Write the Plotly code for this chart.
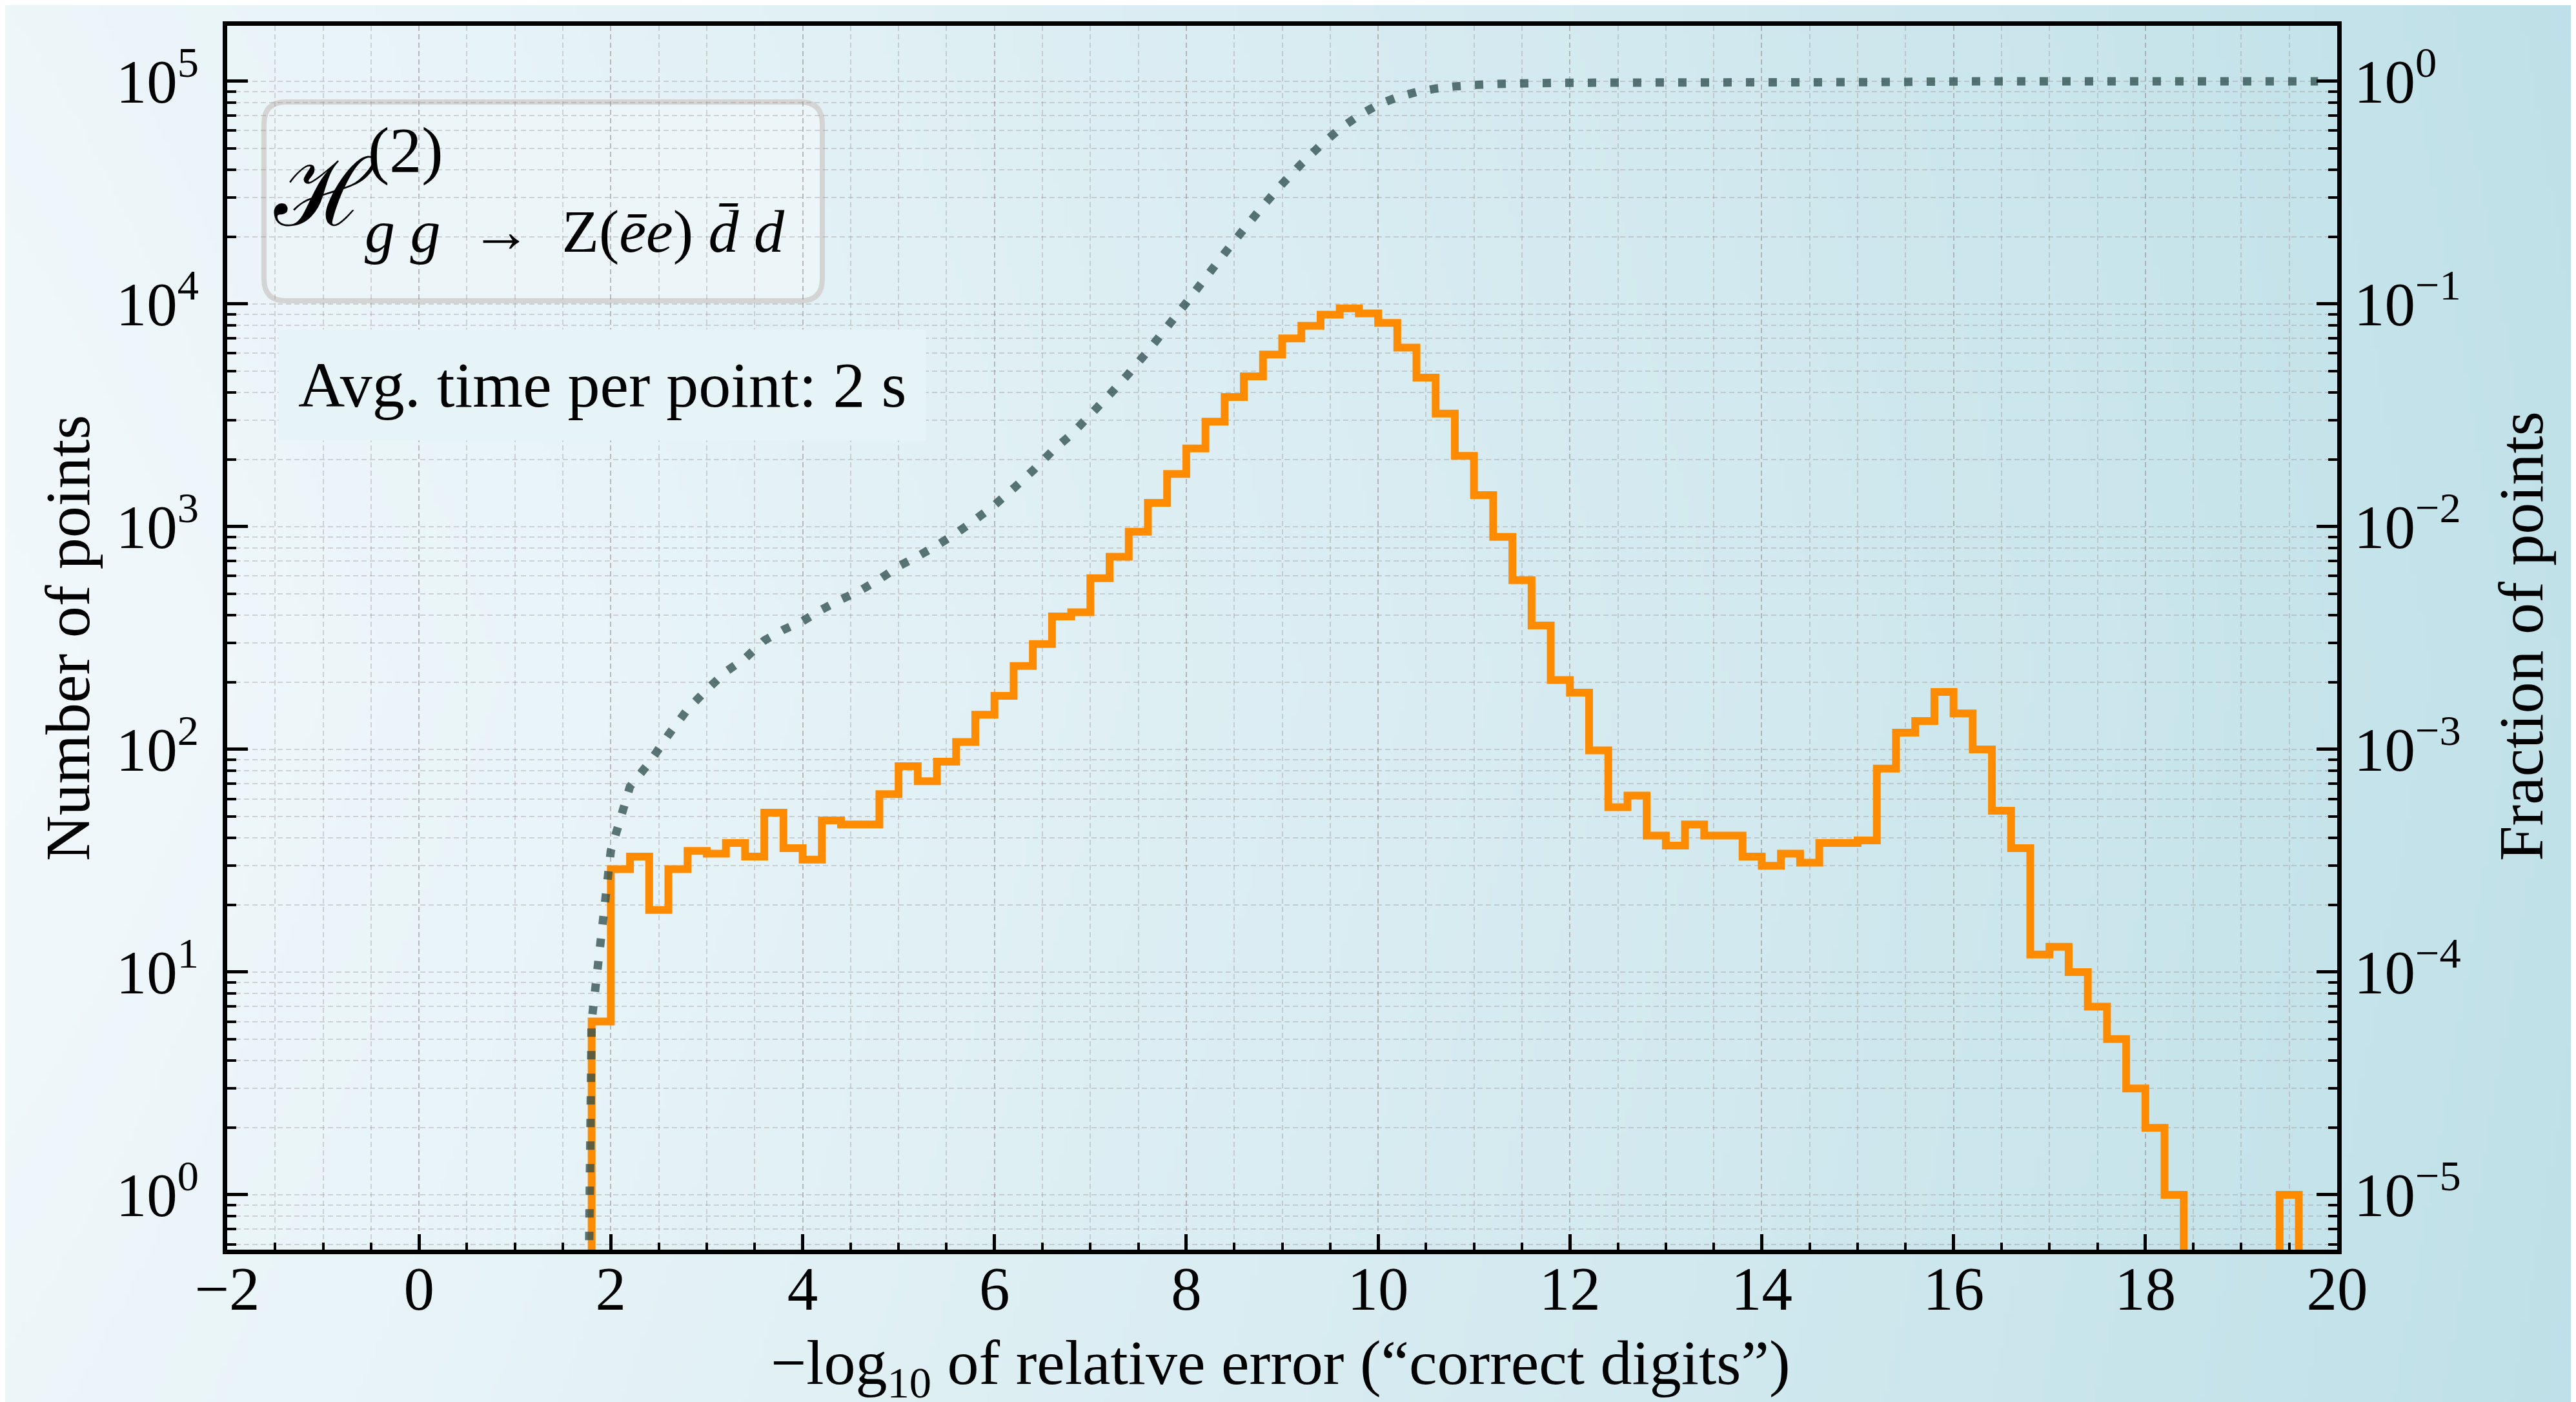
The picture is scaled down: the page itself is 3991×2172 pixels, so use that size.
import base64
import struct
import zlib

import numpy as np
import plotly.graph_objects as go

# ---------------- data ----------------
BIN_START = 1.8          # left edge of first non-empty bin
BIN_WIDTH = 0.2
COUNTS = [
    6, 29, 33, 19, 29, 35, 34, 38, 33, 52,          # 1.8 - 3.8
    36, 32, 48, 46, 46, 63, 84, 72, 88, 108,        # 3.8 - 5.8
    143, 174, 237, 297, 395, 413, 587, 733, 950, 1280,   # 5.8 - 7.8
    1725, 2245, 2960, 3820, 4730, 5930, 7000, 7980, 8960, 9550,  # 7.8 - 9.8
    9070, 8220, 6370, 4670, 3220, 2080, 1387, 900, 575, 360,     # 9.8 - 11.8
    205, 180, 99, 55, 62, 41, 37, 46, 41, 41,       # 11.8 - 13.8
    33, 30, 34, 31, 38, 38, 39, 82, 119, 134,       # 13.8 - 15.8
    181, 145, 100, 53, 36, 12, 13, 10, 7, 5,        # 15.8 - 17.8
    3, 2, 1, 0, 0, 0, 0, 0, 1, 0,                   # 17.8 - 19.8
    0,                                              # 19.8 - 20.0
]
N_POINTS = 100000

X_TICKS = [-2, 0, 2, 4, 6, 8, 10, 12, 14, 16, 18, 20]
Y_TICK_EXP = [0, 1, 2, 3, 4, 5]
Y2_TICK_EXP = [-5, -4, -3, -2, -1, 0]

# ---------------- geometry ----------------
W, H = 3991, 2172
ML, MR, MT, MB = 344, 378, 32, 244
PW = W - ML - MR
PH = H - MT - MB

X_RANGE = [-2, 20]
Y_RANGE = [-0.2464, 5.249]
Y2_RANGE = [Y_RANGE[0] - np.log10(N_POINTS), Y_RANGE[1] - np.log10(N_POINTS)]

FONT = "Liberation Serif"
ORANGE = "#ff8c00"
DOTS = "rgba(47,79,79,0.78)"
GRID = "rgba(150,140,140,0.34)"
GRID_DASH = "8px,5px"
TINY = 1e-12


def px_x(px):
    return (px - ML) / PW


def px_y(py):
    return 1 - (py - MT) / PH


LIGHT = (241, 248, 251)
DARK = (189, 223, 231)


def bg_color(u, v):
    s = 0.92 * u ** 1.15 + 0.18 * abs(v - 0.48) * (1 - 0.5 * u)
    s = min(max(s, 0.0), 1.0)
    return tuple(int(round(a + s * (b - a))) for a, b in zip(LIGHT, DARK))


def png_uri(w, h):
    raw = bytearray()
    for j in range(h):
        raw.append(0)
        for i in range(w):
            raw += bytes(bg_color((i + 0.5) / w, (j + 0.5) / h))

    def chunk(tag, data):
        c = struct.pack(">I", len(data)) + tag + data
        return c + struct.pack(">I", zlib.crc32(tag + data) & 0xFFFFFFFF)

    png = (b"\x89PNG\r\n\x1a\n"
           + chunk(b"IHDR", struct.pack(">IIBBBBB", w, h, 8, 2, 0, 0, 0))
           + chunk(b"IDAT", zlib.compress(bytes(raw), 9))
           + chunk(b"IEND", b""))
    return "data:image/png;base64," + base64.b64encode(png).decode()


def rgb_at_px(px, py, whiten=0.0):
    r, g, b = bg_color(px / W, py / H)
    r, g, b = (int(c + whiten * (255 - c)) for c in (r, g, b))
    return f"rgb({r},{g},{b})"


# ---------------- derived series ----------------
counts = np.array(COUNTS, dtype=float)
edges = BIN_START + BIN_WIDTH * np.arange(len(counts) + 1)
left_edges = edges[:-1]

# step histogram (hv), zeros pushed far below the visible range
step_x = [edges[0]] + list(left_edges) + [edges[-1]]
step_y = [TINY] + [c if c > 0 else TINY for c in counts] + [TINY]

# cumulative fraction at left bin edges
cum_frac = np.cumsum(counts) / counts.sum()
cum_x = [edges[0] - BIN_WIDTH] + list(left_edges)
cum_y = [TINY] + list(cum_frac)

fig = go.Figure()
fig.add_trace(go.Scatter(
    x=step_x, y=step_y, mode="lines", yaxis="y",
    line=dict(color=ORANGE, width=12, shape="hv", simplify=False),
    hoverinfo="skip", showlegend=False,
))
fig.add_trace(go.Scatter(
    x=cum_x, y=cum_y, mode="lines", yaxis="y2",
    line=dict(color=DOTS, width=13, dash="13px,22px", simplify=False),
    hoverinfo="skip", showlegend=False,
))

# ticks
y_tickvals = [10.0 ** e for e in Y_TICK_EXP]
y_ticktext = [f"10<sup>{e}</sup>" for e in Y_TICK_EXP]
y2_tickvals = [10.0 ** e for e in Y2_TICK_EXP]
y2_ticktext = [f"10<sup>{'−' if e < 0 else ''}{abs(e)}</sup>" for e in Y2_TICK_EXP]
y_minor = [m * 10.0 ** e for e in range(-1, 6) for m in range(2, 10)]
y2_minor = [m * 10.0 ** e for e in range(-6, 1) for m in range(2, 10)]

tickfont = dict(family=FONT, size=95, color="black")

fig.update_layout(
    width=W, height=H,
    margin=dict(l=ML, r=MR, t=MT, b=MB, autoexpand=False),
    paper_bgcolor="rgb(222,237,242)",
    plot_bgcolor="rgba(0,0,0,0)",
    showlegend=False,
    xaxis=dict(
        range=X_RANGE, tickmode="array", tickvals=X_TICKS,
        ticktext=[("−" if v < 0 else "") + str(abs(v)) for v in X_TICKS],
        ticks="inside", ticklen=24, tickwidth=5, tickcolor="black",
        showline=True, linewidth=7, linecolor="black", mirror=True,
        showgrid=True, gridcolor=GRID, gridwidth=2, griddash=GRID_DASH,
        zeroline=False, tickfont=tickfont, ticklabelstandoff=-28,
        minor=dict(dtick=0.5, tick0=-2, ticks="inside", ticklen=11, tickwidth=4,
                   tickcolor="black", showgrid=True, gridcolor=GRID,
                   gridwidth=2, griddash=GRID_DASH),
    ),
    yaxis=dict(
        type="log", range=Y_RANGE, tickmode="array",
        tickvals=y_tickvals, ticktext=y_ticktext,
        ticks="inside", ticklen=32, tickwidth=5, tickcolor="black",
        showline=True, linewidth=7, linecolor="black",
        showgrid=True, gridcolor=GRID, gridwidth=2, griddash=GRID_DASH,
        zeroline=False, tickfont=tickfont, ticklabelstandoff=18,
        minor=dict(tickmode="array", tickvals=y_minor, ticks="inside",
                   ticklen=14, tickwidth=4, tickcolor="black",
                   showgrid=True, gridcolor=GRID, gridwidth=2,
                   griddash=GRID_DASH),
    ),
    yaxis2=dict(
        type="log", range=Y2_RANGE, overlaying="y", side="right",
        tickmode="array", tickvals=y2_tickvals, ticktext=y2_ticktext,
        ticks="inside", ticklen=32, tickwidth=5, tickcolor="black",
        showline=True, linewidth=7, linecolor="black",
        showgrid=False, zeroline=False, tickfont=tickfont,
        ticklabelstandoff=0,
        minor=dict(tickmode="array", tickvals=y2_minor, ticks="inside",
                   ticklen=14, tickwidth=4, tickcolor="black", showgrid=False),
    ),
    images=[dict(
        source=png_uri(400, 218), xref="paper", yref="paper",
        x=-ML / PW, y=1 + MT / PH, sizex=W / PW, sizey=H / PH,
        xanchor="left", yanchor="top", sizing="stretch", layer="below",
    )],
)

# rounded label box
bx0, bx1, by0, by1, r = 401, 1266, 150, 458, 34
X0, X1 = px_x(bx0), px_x(bx1)
Y0, Y1 = px_y(by0), px_y(by1)
rx, ry = r / PW, r / PH
path = (f"M {X0 + rx} {Y0} L {X1 - rx} {Y0} Q {X1} {Y0} {X1} {Y0 - ry} "
        f"L {X1} {Y1 + ry} Q {X1} {Y1} {X1 - rx} {Y1} "
        f"L {X0 + rx} {Y1} Q {X0} {Y1} {X0} {Y1 + ry} "
        f"L {X0} {Y0 - ry} Q {X0} {Y0} {X0 + rx} {Y0} Z")
fig.add_shape(type="path", path=path, xref="paper", yref="paper",
              fillcolor=rgb_at_px(830, 300, 0.25),
              line=dict(color="rgb(212,212,212)", width=8), layer="between")


def ann(text, px, py, size, xanchor="center", angle=0, family=FONT, **kw):
    fig.add_annotation(
        text=text, x=px_x(px), y=px_y(py), xref="paper", yref="paper",
        xanchor=xanchor, yanchor="middle", showarrow=False, textangle=angle,
        font=dict(family=family, size=size, color="black"), **kw)


ann("ℋ", 495, 290, 145, family="DejaVu Serif")
ann("(2)", 620, 225, 100)
ann("<i>g\u00a0g</i>\u00a0\u00a0→\u00a0\u00a0Z(<i>ēe</i>)\u00a0<i>d\u0304</i>\u00a0<i>d</i>",
    555, 350, 94, xanchor="left")
ann("Avg. time per point: 2 s", 925, 588, 100,
    bgcolor=rgb_at_px(925, 588), borderpad=30)

ann("Number of points", 97, 980, 98, angle=-90)
ann("Fraction of points", 3898, 978, 98, angle=-90)
ann("−log<sub>10</sub> of relative error (“correct digits”)", 1976, 2110, 98)

fig.write_html("out.html")
